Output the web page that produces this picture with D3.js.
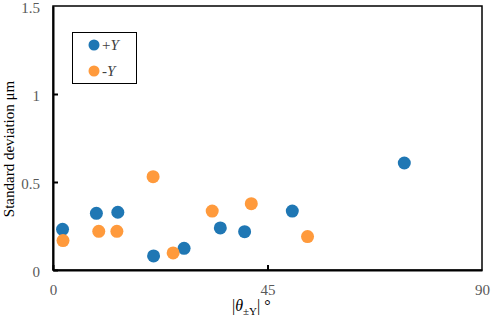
<!DOCTYPE html>
<html>
<head>
<meta charset="utf-8">
<script src="https://cdn.jsdelivr.net/npm/d3@7"></script>
<style>
  body { margin: 0; background: #fff; }
  svg text { font-family: "Liberation Serif", "Times New Roman", serif; }
</style>
</head>
<body>
<div id="chart"></div>
<script>
// data
const plusX = [2.0, 9.1, 13.6, 21.1, 27.5, 35.1, 40.2, 50.2, 73.7]
const plusY = [0.231, 0.322, 0.328, 0.08, 0.123, 0.239, 0.218, 0.335, 0.608]
const minusX = [2.1, 9.6, 13.4, 21.0, 25.2, 33.4, 41.6, 53.4]
const minusY = [0.167, 0.22, 0.22, 0.53, 0.097, 0.335, 0.377, 0.19]
const xTicks = [0, 45, 90]
const yTicks = [0, 0.5, 1, 1.5]

const w = 491, h = 318
const margin = { top: 6, left: 53, right: 9, bottom: 48 }
const blue = '#1f77b4', orange = '#ff9a3c'
const serif = '"Liberation Serif", "Times New Roman", serif'

let svg = d3.select('#chart').append('svg').attr('width', w).attr('height', h)
let x = d3.scaleLinear().domain([0, 90]).range([margin.left, w - margin.right])
let y = d3.scaleLinear().domain([0, 1.5]).range([h - margin.bottom, margin.top])

// frame
svg.append('rect')
  .attr('x', x(0)).attr('y', y(1.5))
  .attr('width', x(90) - x(0)).attr('height', y(0) - y(1.5))
  .attr('fill', 'none').attr('stroke', '#000').attr('stroke-width', 1.5)

// axes
let xAxis = d3.axisBottom(x).tickValues(xTicks).tickSizeInner(-5).tickSizeOuter(0).tickPadding(14)
let gx = svg.append('g').attr('transform', `translate(0, ${y(0)})`).call(xAxis)
let yAxis = d3.axisLeft(y).tickValues(yTicks).tickSizeInner(-5).tickSizeOuter(0).tickPadding(13)
  .tickFormat(d3.format('~g'))
let gy = svg.append('g').attr('transform', `translate(${x(0)}, 0)`).call(yAxis)
;[gx, gy].forEach(g => {
  g.attr('font-family', serif).attr('font-size', 15)
  g.select('.domain').attr('stroke', '#000').attr('stroke-width', 2)
  g.selectAll('.tick line').attr('stroke', '#000').attr('stroke-width', 2)
  g.selectAll('.tick text').attr('fill', '#595959')
})
gx.select('.tick:last-of-type line').remove()
gy.select('.tick:last-of-type line').remove()
gy.selectAll('.tick text').attr('dy', '0.4em')

// points
svg.append('g').selectAll('circle').data(plusX.map((d, i) => [d, plusY[i]])).enter()
  .append('circle').attr('cx', d => x(d[0])).attr('cy', d => y(d[1])).attr('r', 6.5).attr('fill', blue)
svg.append('g').selectAll('circle').data(minusX.map((d, i) => [d, minusY[i]])).enter()
  .append('circle').attr('cx', d => x(d[0])).attr('cy', d => y(d[1])).attr('r', 6.5).attr('fill', orange)

// legend
let lg = svg.append('g').attr('font-family', serif)
lg.append('rect').attr('x', 72.5).attr('y', 32.5).attr('width', 64).attr('height', 51)
  .attr('fill', '#fff').attr('stroke', '#000').attr('stroke-width', 1)
lg.append('circle').attr('cx', 94).attr('cy', 45).attr('r', 5.5).attr('fill', blue)
lg.append('circle').attr('cx', 94).attr('cy', 71).attr('r', 5.5).attr('fill', orange)
let t1 = lg.append('text').attr('x', 102).attr('y', 50).style('font-size', '15px').attr('fill', '#404040')
t1.append('tspan').text('+')
t1.append('tspan').text('Y').style('font-style', 'italic')
let t2 = lg.append('text').attr('x', 102).attr('y', 76).style('font-size', '15px').attr('fill', '#404040')
t2.append('tspan').text('-')
t2.append('tspan').text('Y').style('font-style', 'italic')

// axis titles
svg.append('text').attr('transform', 'translate(14, 149) rotate(-90)')
  .attr('text-anchor', 'middle').style('font-size', '15px').attr('fill', '#000')
  .text('Standard deviation μm')

let xt = svg.append('text').attr('x', 232).attr('y', 311).style('font-size', '16px').attr('fill', '#000')
xt.append('tspan').text('|')
xt.append('tspan').text('θ').style('font-style', 'italic')
xt.append('tspan').text('±Y').attr('dy', 4).style('font-size', '11px')
xt.append('tspan').text('|').attr('dy', -4)
xt.append('tspan').text(' °')
</script>
</body>
</html>
